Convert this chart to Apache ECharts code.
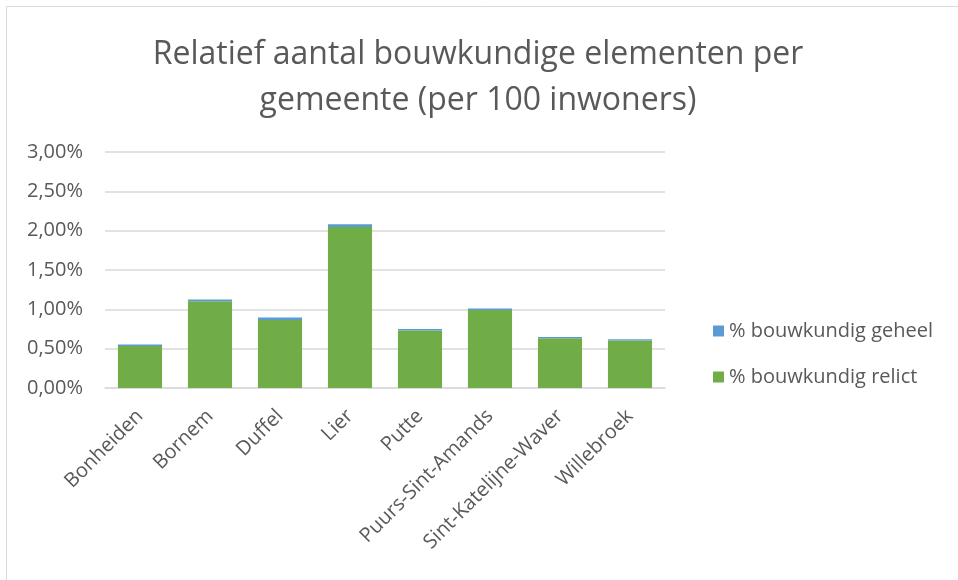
<!DOCTYPE html>
<html>
<head>
    <meta charset="utf-8"/>
    <title>Relatief aantal bouwkundige elementen</title>
    <script src="https://cdn.jsdelivr.net/npm/echarts@6/dist/echarts.min.js"></script>
    <style>
        html, body { margin: 0; padding: 0; background: #fff; }
    </style>
</head>
<body>
<div id="main" style="width: 958px;height:580px;"></div>
<script type="text/javascript">
    // gemeenten (x-as)
    var gemeenten = ['Bonheiden', 'Bornem', 'Duffel', 'Lier', 'Putte', 'Puurs-Sint-Amands', 'Sint-Katelijne-Waver', 'Willebroek'];
    // waarden in %
    var relict = [0.534, 1.103, 0.865, 2.048, 0.730, 0.992, 0.632, 0.603];
    var geheel = [0.018, 0.022, 0.030, 0.034, 0.020, 0.018, 0.017, 0.017];
    // y-as ticks
    var yMin = 0, yMax = 3, yStep = 0.5;

    var fontName = 'Open Sans';
    var myChart = echarts.init(document.getElementById('main'));

    var option = {
        backgroundColor: '#ffffff',
        animation: false,
        title: {
            text: 'Relatief aantal bouwkundige elementen per\ngemeente (per 100 inwoners)',
            left: 473,
            textAlign: 'center',
            top: 27,
            textStyle: {
                fontFamily: fontName,
                fontSize: 32,
                fontWeight: 'normal',
                color: '#595959',
                lineHeight: 46
            }
        },
        graphic: [{
            type: 'rect',
            shape: { x: 6.5, y: 6.5, width: 1000, height: 1000 },
            style: { fill: 'none', stroke: '#d9d9d9', lineWidth: 1 },
            silent: true
        }],
        legend: {
            orient: 'vertical',
            left: 708,
            top: 316,
            itemWidth: 11,
            itemHeight: 11,
            itemGap: 26,
            icon: 'rect',
            textStyle: {
                fontFamily: fontName,
                fontSize: 20,
                color: '#595959'
            },
            data: ['% bouwkundig geheel', '% bouwkundig relict']
        },
        grid: {
            left: 105,
            right: 293,
            top: 152,
            bottom: 192,
            containLabel: false
        },
        xAxis: {
            type: 'category',
            data: gemeenten,
            axisLine: { show: true, lineStyle: { color: '#d9d9d9', width: 1.5 } },
            axisTick: { show: false },
            axisLabel: {
                interval: 0,
                rotate: 45,
                margin: 25,
                fontFamily: fontName,
                fontSize: 20,
                color: '#595959'
            }
        },
        yAxis: {
            type: 'value',
            min: yMin,
            max: yMax,
            interval: yStep,
            axisLine: { show: false },
            axisTick: { show: false },
            splitLine: { lineStyle: { color: '#d9d9d9', width: 1.5 } },
            axisLabel: {
                margin: 22,
                fontFamily: fontName,
                fontSize: 20,
                color: '#595959',
                formatter: function (v) {
                    return v.toFixed(2).replace('.', ',') + '%';
                }
            }
        },
        series: [
            {
                name: '% bouwkundig relict',
                type: 'bar',
                stack: 'totaal',
                barWidth: '63%',
                itemStyle: { color: '#70ad47' },
                data: relict
            },
            {
                name: '% bouwkundig geheel',
                type: 'bar',
                stack: 'totaal',
                barWidth: '63%',
                itemStyle: { color: '#5b9bd5' },
                data: geheel
            }
        ]
    };

    myChart.setOption(option);
</script>
</body>
</html>
